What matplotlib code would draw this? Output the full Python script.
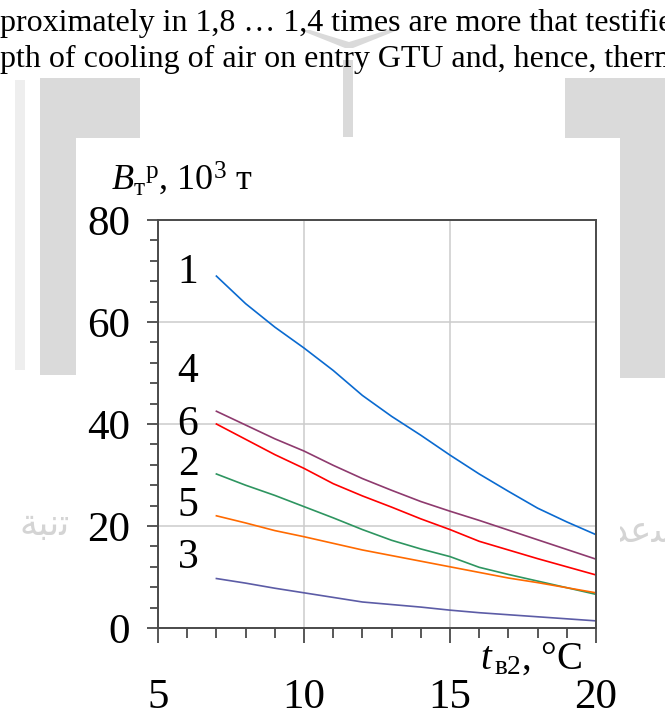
import matplotlib.pyplot as plt
from matplotlib.patches import Rectangle, Polygon
from matplotlib.ticker import MultipleLocator

plt.rcParams['font.family'] = ['Liberation Serif', 'DejaVu Sans']
plt.rcParams['mathtext.fontset'] = 'custom'
plt.rcParams['mathtext.rm'] = 'Liberation Serif'
plt.rcParams['mathtext.it'] = 'Liberation Serif:italic'
plt.rcParams['mathtext.bf'] = 'Liberation Serif:bold'

# air temperature after cooler, C
t_b2 = [7, 8, 9, 10, 11, 12, 13, 14, 15, 16, 17, 18, 19, 20]
# fuel saving, 10^3 t
b1 = [69.0, 63.6, 59.0, 54.9, 50.5, 45.6, 41.5, 37.8, 33.9, 30.2, 26.8, 23.5, 20.8, 18.3]
b4 = [42.5, 39.8, 37.1, 34.7, 31.9, 29.3, 27.0, 24.8, 22.9, 21.1, 19.2, 17.3, 15.4, 13.5]
b6 = [40.0, 37.0, 34.0, 31.3, 28.3, 25.9, 23.7, 21.4, 19.3, 17.0, 15.3, 13.6, 12.0, 10.4]
b2 = [30.2, 28.0, 26.0, 23.8, 21.6, 19.3, 17.2, 15.5, 14.0, 11.9, 10.5, 9.2, 7.9, 6.6]
b5 = [22.0, 20.6, 19.1, 17.9, 16.6, 15.3, 14.2, 13.1, 12.0, 10.9, 9.8, 8.9, 7.9, 6.9]
b3 = [9.7, 8.8, 7.8, 6.9, 6.0, 5.1, 4.6, 4.1, 3.5, 3.0, 2.6, 2.2, 1.8, 1.4]

curve_names = ['1', '4', '6', '2', '5', '3']
curve_label_y = [69.6, 50.2, 39.8, 32.0, 23.9, 13.7]

W, H = 665, 712


def fx(x):
    return x / W


def fy(y):
    return 1 - y / H


fig = plt.figure(figsize=(6.65, 7.12), dpi=100)

# page text above the figure
fig.text(0, fy(31), "proximately in 1,8 \u2026 1,4 times are more that testifies",
         fontsize=23, va='baseline', ha='left')
fig.text(0, fy(67), "pth of cooling of air on entry GTU and, hence, thermal",
         fontsize=23, va='baseline', ha='left')

# watermark (light grey), partly hidden by the white figure box
wm = '#dadada'
for (x0, y0, x1, y1) in [(40, 78, 140, 138), (40, 138, 76, 375),
                         (565, 78, 665, 138), (620, 138, 665, 378),
                         (343, 60, 353, 137)]:
    fig.add_artist(Rectangle((fx(x0), fy(y1)), fx(x1) - fx(x0), fy(y0) - fy(y1),
                             transform=fig.transFigure, color=wm, lw=0, zorder=0))
fig.add_artist(Rectangle((fx(15), fy(370)), fx(10), fy(80) - fy(370),
                         transform=fig.transFigure, color='#eeeeee', lw=0, zorder=0))
fig.add_artist(Polygon([(fx(300), fy(30)), (fx(345), fy(48)), (fx(353), fy(48)),
                        (fx(398), fy(30)), (fx(388), fy(30)), (fx(349), fy(42)),
                        (fx(310), fy(30))],
                       transform=fig.transFigure, color=wm, lw=0, zorder=0))
fig.text(fx(20), fy(525), "\ufe94\ufe92\ufee7\ufe97", fontsize=26, color='#d4d4d4',
         family='DejaVu Sans', va='center', ha='left', zorder=0)
fig.text(fx(612), fy(532), "\ufeaa\ufecb\ufeb4", fontsize=26, color='#d4d4d4',
         family='DejaVu Sans', va='center', ha='left', zorder=0)
fig.add_artist(Rectangle((fx(76), 0), fx(620) - fx(76), fy(138),
                         transform=fig.transFigure, color='white', lw=0, zorder=1))

ax = fig.add_axes([fx(158), fy(628), fx(596) - fx(158), fy(220) - fy(628)])
ax.set_zorder(2)

colors = ['#0a6ad0', '#8e3a6e', '#ff0000', '#2e9560', '#ff6a00', '#5c5ca6']
for ys, c in zip([b1, b4, b6, b2, b5, b3], colors):
    ax.plot(t_b2, ys, color=c, lw=1.2)

for name, yl in zip(curve_names, curve_label_y):
    ax.text(6.03, yl, name, fontsize=30, ha='center', va='center')

ax.set_xlim(5, 20)
ax.set_ylim(0, 80)
ax.xaxis.set_major_locator(MultipleLocator(5))
ax.xaxis.set_minor_locator(MultipleLocator(1))
ax.yaxis.set_major_locator(MultipleLocator(20))
ax.yaxis.set_minor_locator(MultipleLocator(4))
ax.grid(True, which='major', color='#cccccc', lw=1.1)
ax.set_axisbelow(True)
for s in ax.spines.values():
    s.set_color('#4a4a4a')
    s.set_linewidth(1.4)
ax.tick_params(axis='x', which='major', length=11, width=1.3, color='#4a4a4a',
               labelsize=31, pad=25)
ax.tick_params(axis='x', which='minor', length=7.5, width=1.3, color='#4a4a4a')
ax.tick_params(axis='y', which='major', length=8, width=1.3, color='#4a4a4a',
               labelsize=31, pad=12)
ax.tick_params(axis='y', which='minor', length=6, width=1.3, color='#4a4a4a')

fig.text(fx(111), fy(190), r"$B_{\mathrm{т}}{}^{\mathrm{р}}$, 10$^3$ т",
         fontsize=26, va='baseline', ha='left', zorder=3)
fig.text(fx(480), fy(669), r"$t_{\,\mathrm{в2}}$, °C",
         fontsize=28, va='baseline', ha='left', zorder=3)

fig.savefig('out.png', dpi=100)
